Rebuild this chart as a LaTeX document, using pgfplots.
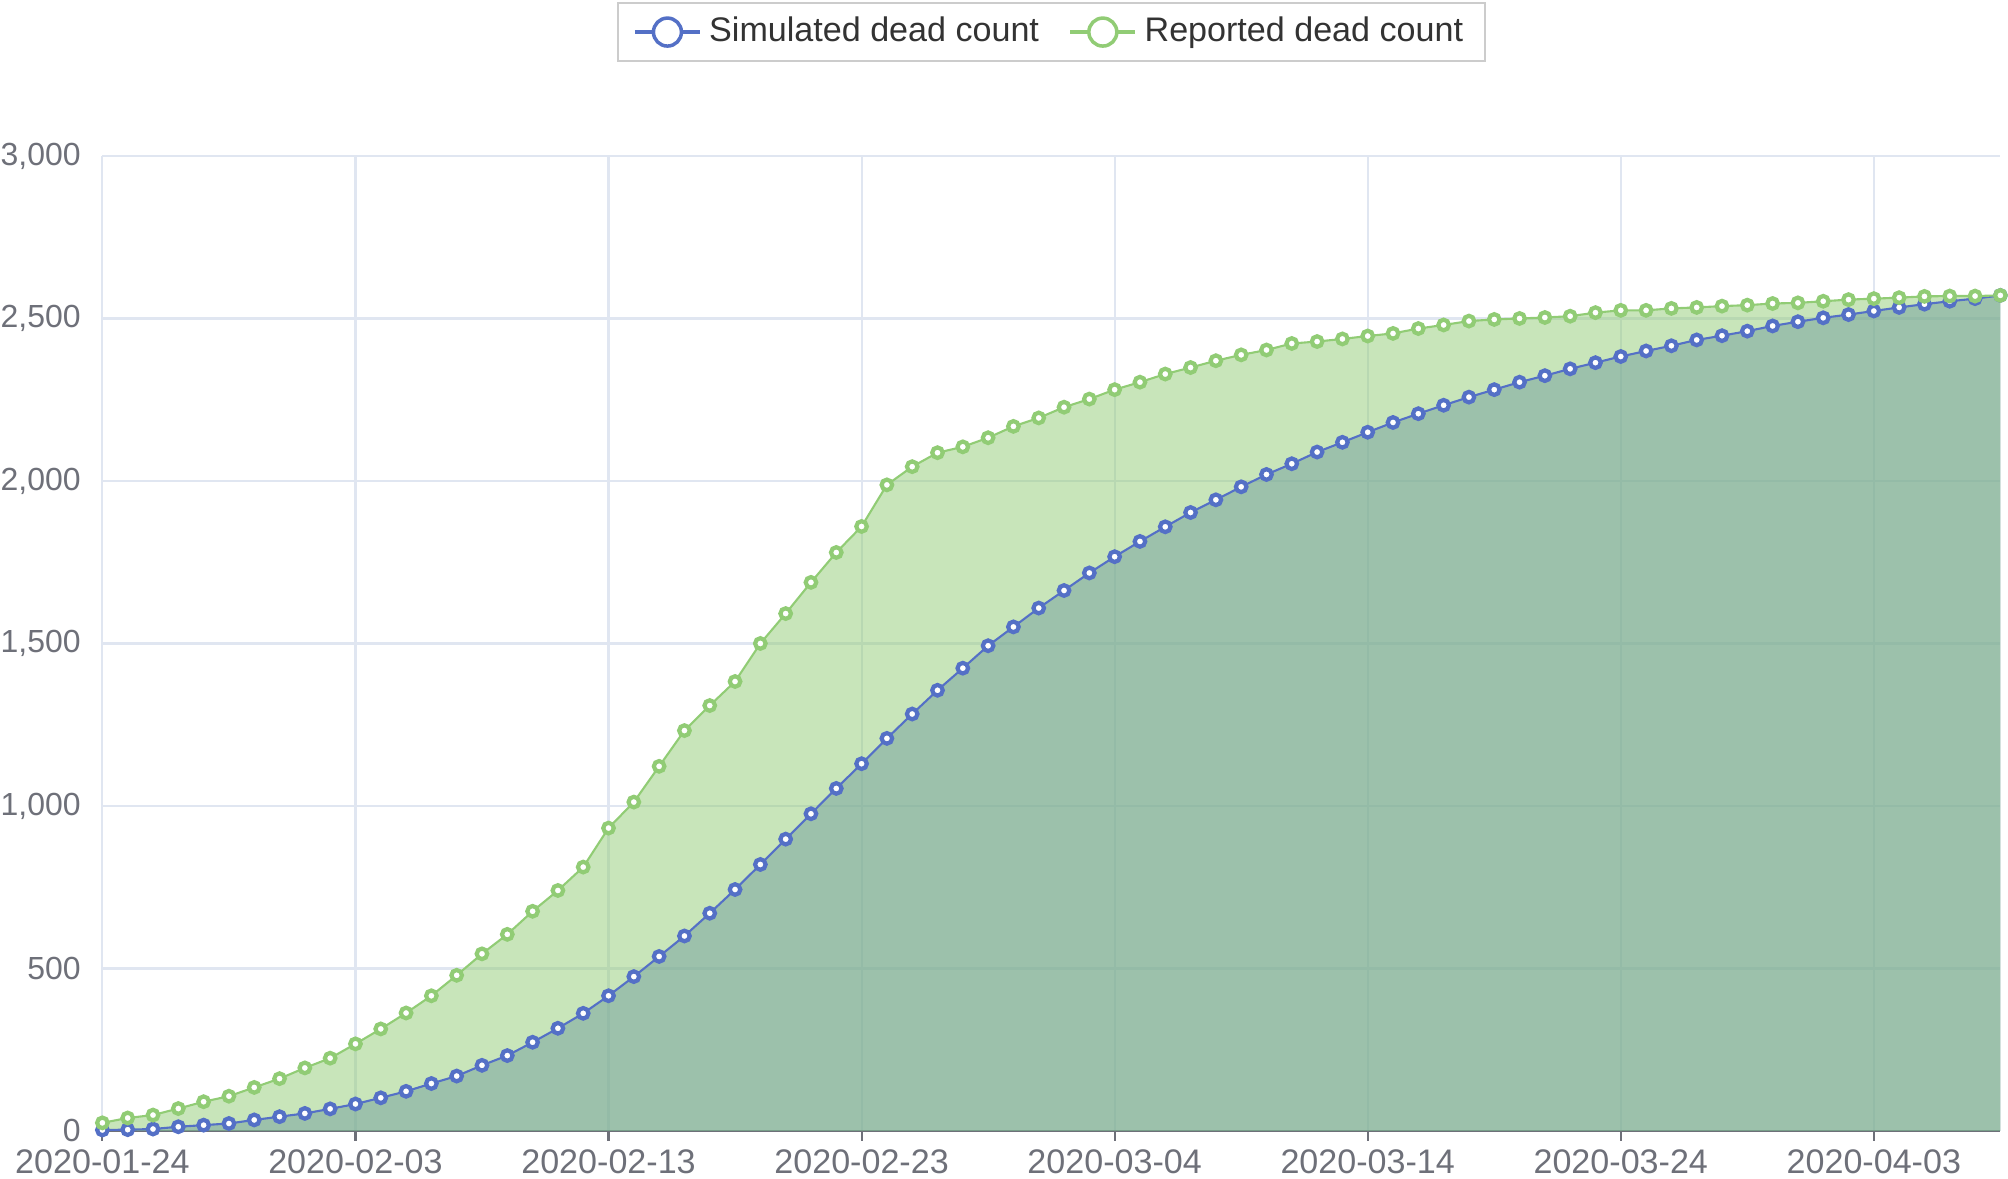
\documentclass[border=0pt]{standalone}
\usepackage{fontspec}
\setmainfont{Liberation Sans}
\usepackage{pgfplots}
\usepackage{pgfplotstable}
\pgfplotsset{compat=1.18}

\definecolor{simblue}{HTML}{5470C6}
\definecolor{repgreen}{HTML}{91CC75}
\definecolor{gridc}{HTML}{E0E6F1}
\definecolor{axisc}{HTML}{6E7079}
\definecolor{legtext}{HTML}{333333}
\definecolor{legborder}{HTML}{CCCCCC}

% day index from 2020-01-24, simulated and reported cumulative deaths
\pgfplotstableread{
day sim rep
0 3 25
1 4 40
2 6 49
3 13 69
4 18 90
5 23 107
6 34 134
7 44 161
8 54 194
9 68 224
10 83 268
11 102 314
12 122 363
13 146 416
14 169 479
15 202 545
16 232 605
17 273 676
18 316 740
19 362 812
20 416 932
21 475 1012
22 537 1122
23 600 1232
24 670 1309
25 743 1383
26 820 1500
27 898 1592
28 976 1688
29 1054 1780
30 1130 1860
31 1208 1988
32 1283 2044
33 1356 2087
34 1424 2105
35 1493 2133
36 1551 2168
37 1609 2194
38 1663 2227
39 1717 2252
40 1767 2281
41 1814 2304
42 1859 2329
43 1903 2349
44 1942 2370
45 1982 2388
46 2020 2403
47 2053 2423
48 2089 2429
49 2119 2437
50 2150 2446
51 2180 2454
52 2207 2469
53 2233 2480
54 2258 2492
55 2281 2497
56 2304 2500
57 2324 2503
58 2345 2507
59 2364 2518
60 2383 2525
61 2400 2525
62 2416 2531
63 2434 2534
64 2447 2538
65 2461 2541
66 2477 2546
67 2490 2548
68 2502 2553
69 2512 2558
70 2523 2561
71 2534 2564
72 2544 2568
73 2553 2569
74 2561 2569
75 2571 2571
}\deaths

\begin{document}
\begin{tikzpicture}
\begin{axis}[
  scale only axis, width=18.98cm, height=9.75cm,
  xmin=0, xmax=75, ymin=0, ymax=3000,
  clip=false,
  axis x line*=bottom, axis y line*=left,
  x axis line style={-, color=axisc, line width=0.6pt},
  y axis line style={draw=none},
  xtick={0,10,...,70},
  xticklabels={2020-01-24,2020-02-03,2020-02-13,2020-02-23,2020-03-04,2020-03-14,2020-03-24,2020-04-03},
  ytick={0,500,...,3000},
  grid=major, major grid style={gridc, line width=0.6pt},
  tick align=outside, major tick length=0.1cm,
  xtick style={color=axisc, line width=0.6pt},
  ytick style={draw=none},
  tick label style={font=\fontsize{9.7pt}{11pt}\selectfont, text=axisc},
  xticklabel style={inner sep=0pt, yshift=-0.08cm},
  yticklabel style={inner sep=0pt, xshift=-0.11cm, font=\fontsize{9.1pt}{11pt}\selectfont},
  /pgf/number format/1000 sep={,},
  /pgf/number format/assume math mode=true,
  legend columns=2,
  legend style={at={(0.5,1)}, anchor=south, yshift=0.94cm,
    draw=legborder, line width=0.5pt, fill=white,
    inner xsep=0.15cm, inner ysep=0.07cm,
    font=\fontsize{9.7pt}{11pt}\selectfont, text=legtext,
    /tikz/every even column/.append style={column sep=0.22cm}},
]
% areas
\addplot[draw=none, fill=simblue, fill opacity=0.5, forget plot]
  table[x=day, y=sim] {\deaths} \closedcycle;
\addplot[draw=none, fill=repgreen, fill opacity=0.5, forget plot]
  table[x=day, y=rep] {\deaths} \closedcycle;
% lines
\addplot[simblue, line width=0.6pt, mark=*, mark size=1.5pt,
  mark options={fill=white, draw=simblue, line width=1.2pt}, forget plot]
  table[x=day, y=sim] {\deaths};
\addplot[repgreen, line width=0.6pt, mark=*, mark size=1.5pt,
  mark options={fill=white, draw=repgreen, line width=1.2pt}, forget plot]
  table[x=day, y=rep] {\deaths};
% legend entries
\addlegendimage{legend image code/.code={
  \draw[simblue, line width=1.3pt] (0cm,0cm) -- (0.65cm,0cm);
  \draw[simblue, line width=1pt, fill=white] (0.325cm,0cm) circle (0.14cm);}}
\addlegendentry{Simulated dead count}
\addlegendimage{legend image code/.code={
  \draw[repgreen, line width=1.3pt] (0cm,0cm) -- (0.65cm,0cm);
  \draw[repgreen, line width=1pt, fill=white] (0.325cm,0cm) circle (0.14cm);}}
\addlegendentry{Reported dead count}
\end{axis}
\pgfresetboundingbox
\path[use as bounding box] (-1.024cm,-0.48cm) rectangle (19.056cm,11.31cm);
\end{tikzpicture}
\end{document}
